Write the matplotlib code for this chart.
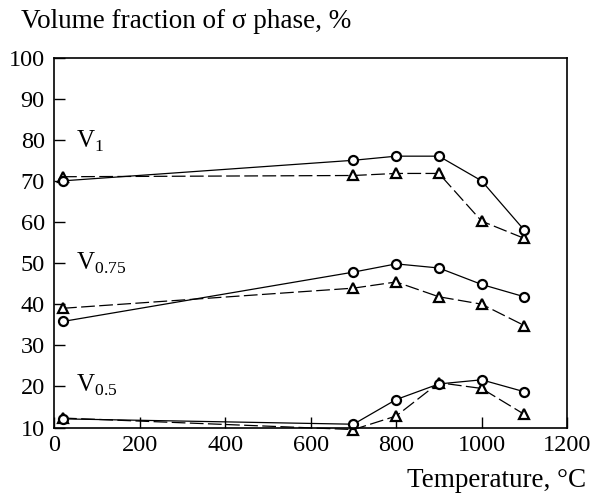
import matplotlib
matplotlib.use("Agg")
import matplotlib.pyplot as plt

plt.rcParams['font.family'] = ['Liberation Serif', 'DejaVu Serif']
plt.rcParams['mathtext.fontset'] = 'custom'
plt.rcParams['mathtext.rm'] = 'Liberation Serif'

temps = [20, 700, 800, 900, 1000, 1100]

v1_circ = [70, 75, 76, 76, 70, 58]
v1_tri = [71, 71.3, 71.8, 71.8, 60.2, 56]

v075_circ = [35.8, 47.8, 49.8, 48.8, 44.8, 41.8]
v075_tri = [39, 43.9, 45.4, 41.8, 40, 34.8]

v05_circ = [12.1, 10.8, 16.8, 20.6, 21.6, 18.7]
v05_tri = [12.3, 9.5, 12.8, 20.9, 19.5, 13.2]

series_labels = [r'V$_{1}$', r'V$_{0.75}$', r'V$_{0.5}$']
label_pos = [(50, 78.0), (50, 48.3), (50, 18.7)]

fig = plt.figure(figsize=(5.93, 4.94), dpi=100)
ax = fig.add_axes([0.0919, 0.1346, 0.8643, 0.749])

circ_kw = dict(color='black', linestyle='-', linewidth=0.9, marker='o',
               markersize=6.5, markerfacecolor='white', markeredgewidth=1.6,
               markeredgecolor='black')
tri_kw = dict(color='black', linestyle=(0, (11, 3.5)), linewidth=0.9, marker='^',
              markersize=7, markerfacecolor='white', markeredgewidth=1.6,
              markeredgecolor='black')

for tri in (v1_tri, v075_tri, v05_tri):
    ax.plot(temps, tri, clip_on=False, **tri_kw)
for circ in (v1_circ, v075_circ, v05_circ):
    ax.plot(temps, circ, clip_on=False, **circ_kw)

for lab, (x, y) in zip(series_labels, label_pos):
    ax.text(x, y, lab, fontsize=18, ha='left', va='baseline')

ax.set_xlim(0, 1200)
ax.set_ylim(10, 100)
ax.set_xticks(range(0, 1201, 200))
ax.set_yticks(range(10, 101, 10))
ax.tick_params(direction='in', length=8, width=1.0, labelsize=17.5)
ax.tick_params(axis='x', pad=5.5)
ax.tick_params(axis='y', pad=7)
for sp in ax.spines.values():
    sp.set_linewidth(1.2)

fig.text(21 / 593, 1 - 28.3 / 494, 'Volume fraction of σ phase, %', fontsize=19.5,
         ha='left', va='baseline')
fig.text(586 / 593, 1 - 487.3 / 494, 'Temperature, °C', fontsize=19.5,
         ha='right', va='baseline')

fig.savefig('out.png', dpi=100)
